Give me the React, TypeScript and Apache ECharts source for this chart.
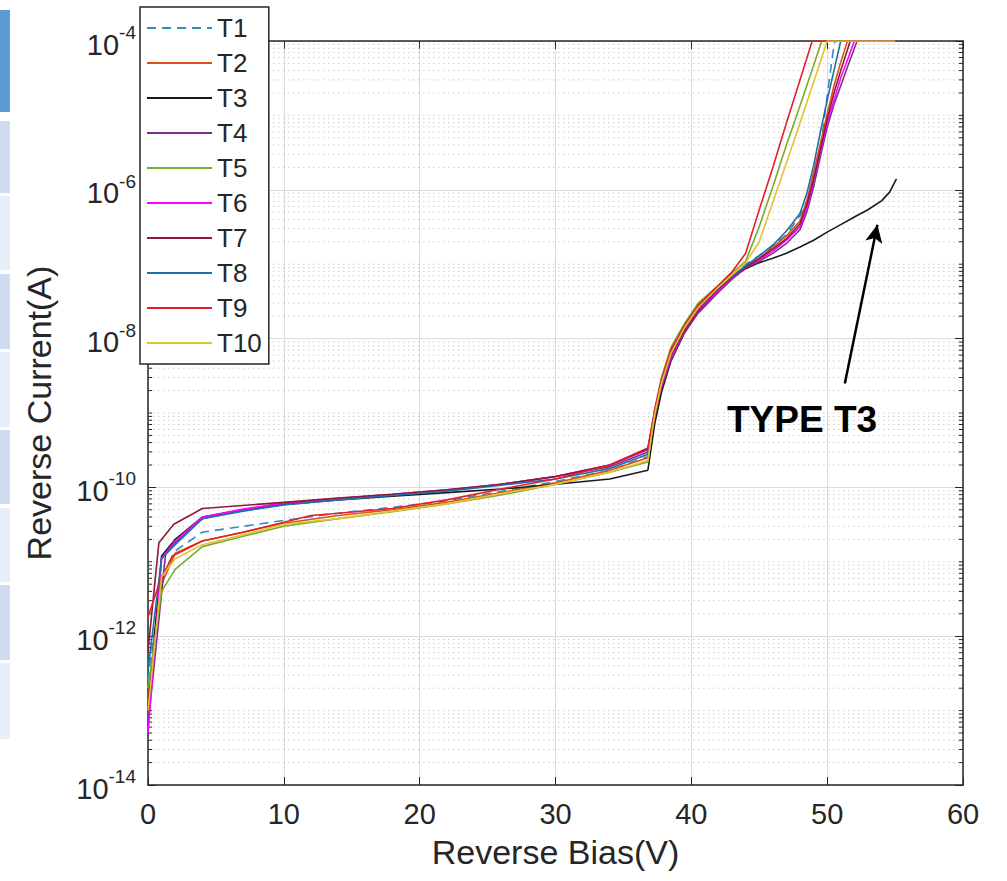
import React, { useEffect, useRef } from 'react';
import * as echarts from 'echarts';

// Reverse bias (V) vs reverse current (A) for test structures T1..T10
const T1 = [[0, 2.5e-13], [1, 6.3e-12], [2, 1.4e-11], [4, 2.5e-11], [7, 3.0e-11], [10, 3.6e-11], [14, 4.5e-11], [18, 5.4e-11], [22, 6.6e-11], [26, 8.9e-11], [30, 1.2e-10], [34, 1.7e-10], [36.8, 2.6e-10], [37.3, 1.0e-9], [37.8, 2.6e-9], [38.5, 6.6e-9], [39.5, 1.4e-8], [40.5, 2.8e-8], [42, 5.0e-8], [43, 7.1e-8], [44, 1.0e-7], [45, 1.3e-7], [46, 1.8e-7], [47, 2.5e-7], [48, 4.5e-7], [48.5, 7.1e-7], [49, 1.1e-6], [49.5, 3.5e-6], [50, 1.8e-5], [50.5, 8.9e-5], [50.6, 1e-4], [55, 1e-4]];
const T2 = [[0, 1.3e-13], [1, 5.0e-12], [2, 1.3e-11], [4, 1.9e-11], [7, 2.5e-11], [10, 3.3e-11], [14, 4.2e-11], [18, 5.0e-11], [22, 6.3e-11], [26, 8.5e-11], [30, 1.15e-10], [34, 1.7e-10], [36.8, 2.5e-10], [37.3, 8.9e-10], [37.8, 2.4e-9], [38.5, 6.0e-9], [39.5, 1.35e-8], [40.5, 2.5e-8], [42, 4.7e-8], [43, 6.8e-8], [44, 9.3e-8], [45, 1.2e-7], [46, 1.7e-7], [47, 2.4e-7], [48, 3.8e-7], [48.5, 7.1e-7], [49, 1.7e-6], [49.5, 4.2e-6], [50, 1.05e-5], [50.5, 2.5e-5], [51, 5.2e-5], [51.5, 1e-4], [55, 1e-4]];
const T3 = [[0, 1.0e-13], [1, 1.2e-11], [2, 2.0e-11], [4, 4.0e-11], [7, 5.0e-11], [10, 5.9e-11], [14, 6.8e-11], [18, 7.6e-11], [22, 8.5e-11], [26, 9.5e-11], [30, 1.1e-10], [34, 1.3e-10], [36.8, 1.7e-10], [37.3, 7.1e-10], [37.8, 1.9e-9], [38.5, 5.0e-9], [39.5, 1.2e-8], [40.5, 2.3e-8], [42, 4.5e-8], [43, 6.6e-8], [44, 8.7e-8], [45, 1.05e-7], [46, 1.2e-7], [47, 1.4e-7], [48, 1.7e-7], [49, 2.1e-7], [50, 2.7e-7], [51, 3.4e-7], [52, 4.3e-7], [53, 5.4e-7], [54, 7.1e-7], [54.6, 9.3e-7], [55.1, 1.4e-6]];
const T4 = [[0, 6.3e-14], [1.3, 1.3e-11], [2, 1.8e-11], [4, 3.8e-11], [7, 5.0e-11], [10, 6.0e-11], [14, 7.1e-11], [18, 7.9e-11], [22, 9.1e-11], [26, 1.1e-10], [30, 1.4e-10], [34, 1.9e-10], [36.8, 3.0e-10], [37.3, 1.0e-9], [37.8, 2.2e-9], [38.5, 5.2e-9], [39.5, 1.2e-8], [40.5, 2.2e-8], [42, 4.2e-8], [43, 6.3e-8], [44, 8.9e-8], [45, 1.1e-7], [46, 1.4e-7], [47, 1.9e-7], [48, 2.9e-7], [48.5, 5.0e-7], [49, 1.1e-6], [49.5, 2.8e-6], [50, 6.9e-6], [50.5, 1.4e-5], [51, 2.5e-5], [51.5, 4.5e-5], [52.2, 1e-4], [55, 1e-4]];
const T5 = [[0, 2.0e-13], [1, 4.0e-12], [2, 7.9e-12], [4, 1.6e-11], [7, 2.2e-11], [10, 3.0e-11], [14, 3.8e-11], [18, 4.7e-11], [22, 6.0e-11], [26, 7.9e-11], [30, 1.1e-10], [34, 1.6e-10], [36.8, 2.2e-10], [37.3, 1.1e-9], [37.8, 3.0e-9], [38.5, 7.6e-9], [39.5, 1.6e-8], [40.5, 3.0e-8], [42, 5.2e-8], [43, 7.6e-8], [44, 1.1e-7], [45, 3.2e-7], [46, 1.1e-6], [47, 4.0e-6], [48, 1.35e-5], [49, 4.7e-5], [49.6, 1e-4], [55, 1e-4]];
const T6 = [[0, 5.0e-14], [1, 1.1e-11], [2, 1.9e-11], [4, 4.0e-11], [7, 5.1e-11], [10, 6.2e-11], [14, 7.1e-11], [18, 8.1e-11], [22, 9.3e-11], [26, 1.1e-10], [30, 1.4e-10], [34, 2.0e-10], [36.8, 3.2e-10], [37.3, 9.5e-10], [37.8, 2.3e-9], [38.5, 5.6e-9], [39.5, 1.3e-8], [40.5, 2.4e-8], [42, 4.5e-8], [43, 6.6e-8], [44, 9.1e-8], [45, 1.15e-7], [46, 1.5e-7], [47, 2.1e-7], [48, 3.2e-7], [48.5, 5.6e-7], [49, 1.3e-6], [49.5, 3.2e-6], [50, 7.9e-6], [50.5, 1.6e-5], [51, 3.2e-5], [51.5, 5.6e-5], [52, 1e-4], [55, 1e-4]];
const T7 = [[0, 6.3e-13], [0.8, 1.8e-11], [1.9, 3.2e-11], [4, 5.2e-11], [10, 6.3e-11], [14, 7.2e-11], [18, 8.1e-11], [22, 9.3e-11], [26, 1.1e-10], [30, 1.4e-10], [34, 2.0e-10], [36.8, 3.3e-10], [37.3, 1.0e-9], [37.8, 2.5e-9], [38.5, 6.0e-9], [39.5, 1.3e-8], [40.5, 2.5e-8], [42, 4.7e-8], [43, 6.8e-8], [44, 9.1e-8], [45, 1.2e-7], [46, 1.6e-7], [47, 2.2e-7], [48, 3.5e-7], [48.5, 6.3e-7], [49, 1.4e-6], [49.5, 3.5e-6], [50, 8.9e-6], [50.5, 2.0e-5], [51, 4.0e-5], [51.7, 1e-4], [55, 1e-4]];
const T8 = [[0, 3.5e-13], [1, 1.1e-11], [2, 1.7e-11], [4, 3.8e-11], [7, 4.8e-11], [10, 5.8e-11], [14, 6.8e-11], [18, 7.8e-11], [22, 8.9e-11], [26, 1.07e-10], [30, 1.3e-10], [34, 1.8e-10], [36.8, 2.8e-10], [37.3, 1.05e-9], [37.8, 2.6e-9], [38.5, 6.6e-9], [39.5, 1.45e-8], [40.5, 2.7e-8], [42, 4.9e-8], [43, 6.9e-8], [44, 9.5e-8], [45, 1.3e-7], [46, 1.8e-7], [47, 2.8e-7], [48, 4.8e-7], [48.5, 8.9e-7], [49, 2.1e-6], [49.5, 6.0e-6], [50, 1.6e-5], [50.5, 4.0e-5], [51, 1e-4], [55, 1e-4]];
const T9 = [[0, 1.8e-12], [0.8, 5.0e-12], [1.8, 1.2e-11], [4, 1.9e-11], [7, 2.5e-11], [10, 3.4e-11], [12, 4.2e-11], [14, 4.5e-11], [18, 5.2e-11], [22, 6.8e-11], [26, 9.5e-11], [30, 1.3e-10], [34, 2.0e-10], [36.8, 3.4e-10], [37.3, 1.1e-9], [37.8, 2.8e-9], [38.5, 7.1e-9], [39.5, 1.5e-8], [40.5, 2.8e-8], [42, 5.2e-8], [43, 7.9e-8], [44, 1.4e-7], [45, 5.4e-7], [46, 2.0e-6], [47, 7.9e-6], [48, 3.0e-5], [48.9, 1e-4], [55, 1e-4]];
const T10 = [[0, 1.0e-13], [1, 6.3e-12], [2, 1.1e-11], [4, 1.7e-11], [7, 2.3e-11], [10, 3.2e-11], [14, 3.8e-11], [18, 4.8e-11], [22, 6.0e-11], [26, 8.3e-11], [30, 1.1e-10], [34, 1.6e-10], [36.8, 2.3e-10], [37.3, 9.5e-10], [37.8, 2.5e-9], [38.5, 6.3e-9], [39.5, 1.4e-8], [40.5, 2.6e-8], [42, 4.9e-8], [43, 7.2e-8], [44, 1.05e-7], [45, 2.0e-7], [46, 6.8e-7], [47, 2.3e-6], [48, 7.9e-6], [49, 2.8e-5], [50, 1e-4], [55, 1e-4]];

const seriesNames = ['T1', 'T2', 'T3', 'T4', 'T5', 'T6', 'T7', 'T8', 'T9', 'T10'];
const seriesData = [T1, T2, T3, T4, T5, T6, T7, T8, T9, T10];
const seriesColors = ['#2E8FC0', '#D95319', '#1A1A1A', '#7E2F8E', '#77AC30', '#FF00FF', '#8B1A35', '#1F6FA8', '#E3202C', '#E3C230'];

// axis settings
const xMin = 0;
const xMax = 60;
const xStep = 10;
const yMin = 1e-14;
const yMax = 1e-4;
const yLogStep = 2;

// annotation arrow (data coordinates)
const arrowFrom = [51.3, 2.5e-9];
const arrowTo = [53.7, 3.4e-7];
const annotationText = 'TYPE T3';

const FONT = '"Liberation Sans", Arial, Helvetica, sans-serif';
const AX = '#262626';

function buildMinorValues() {
  const out: number[][] = [];
  for (let d = -14; d <= -5; d++) {
    for (let k = 1; k <= 9; k++) {
      if (k === 1 && d % 2 === 0) continue;
      out.push([0, k * Math.pow(10, d)]);
    }
  }
  return out;
}

export default function App() {
  const ref = useRef<HTMLDivElement>(null);
  useEffect(() => {
    const chart = echarts.init(ref.current!, null, { renderer: 'svg' });
    const lineSeries: any[] = seriesNames.map((name, i) => ({
      name,
      type: 'line',
      data: seriesData[i],
      symbol: 'none',
      showSymbol: false,
      z: 3,
      lineStyle: {
        color: seriesColors[i],
        width: 1.6,
        type: i === 0 ? [9, 6] : 'solid',
      },
      itemStyle: { color: seriesColors[i] },
      emphasis: { disabled: true },
      markLine:
        name === 'T3'
          ? {
              silent: true,
              symbol: ['none', 'arrow'],
              symbolSize: [13, 18],
              label: { show: false },
              lineStyle: { color: '#000', width: 2.5, type: 'solid' },
              data: [[{ coord: arrowFrom }, { coord: arrowTo }]],
            }
          : undefined,
    }));
    const minorSeries = {
      type: 'custom',
      name: 'minorGrid',
      silent: true,
      z: 1,
      data: buildMinorValues(),
      renderItem: (params: any, api: any) => {
        const v = api.value(1);
        const p0 = api.coord([xMin, v]);
        const p1 = api.coord([xMax, v]);
        return {
          type: 'group',
          children: [
            { type: 'line', shape: { x1: p0[0], y1: p0[1], x2: p1[0], y2: p1[1] }, style: { stroke: '#cccccc', lineWidth: 1, lineDash: [1.5, 3.5] } },
            { type: 'line', shape: { x1: p0[0], y1: p0[1], x2: p0[0] + 4, y2: p0[1] }, style: { stroke: AX, lineWidth: 1 } },
            { type: 'line', shape: { x1: p1[0] - 4, y1: p1[1], x2: p1[0], y2: p1[1] }, style: { stroke: AX, lineWidth: 1 } },
          ],
        };
      },
    };
    const yLabel = (val: number) => {
      const e = Math.round(Math.log10(val));
      return `{b|10}{s|${e}}`;
    };
    const option: any = {
      animation: false,
      backgroundColor: '#ffffff',
      textStyle: { fontFamily: FONT },
      grid: { left: 148, right: 44, top: 41, bottom: 96, containLabel: false },
      legend: {
        data: seriesNames,
        orient: 'vertical',
        left: 140,
        top: 7,
        itemWidth: 65,
        itemHeight: 14,
        itemGap: 9,
        padding: [8, 7, 8, 6],
        backgroundColor: '#ffffff',
        borderColor: AX,
        borderWidth: 1.5,
        borderRadius: 0,
        selectedMode: false,
        z: 10,
        itemStyle: { opacity: 0 },
        textStyle: { fontSize: 26, lineHeight: 26, color: AX, fontFamily: FONT, padding: [0, 0, 0, 0] },
      },
      xAxis: [
        {
          type: 'value',
          min: xMin,
          max: xMax,
          interval: xStep,
          position: 'bottom',
          name: 'Reverse Bias(V)',
          nameLocation: 'middle',
          nameGap: 50,
          nameTextStyle: { fontSize: 34, color: AX, fontFamily: FONT },
          axisLine: { show: true, onZero: false, lineStyle: { color: AX, width: 1.5 } },
          axisTick: { show: true, inside: true, length: 8, lineStyle: { color: AX } },
          axisLabel: { fontSize: 29, color: AX, margin: 14, fontFamily: FONT },
          splitLine: { show: true, lineStyle: { color: '#dcdcdc', width: 1 } },
        },
        {
          type: 'value',
          min: xMin,
          max: xMax,
          interval: xStep,
          position: 'top',
          axisLine: { show: true, onZero: false, lineStyle: { color: AX, width: 1.5 } },
          axisTick: { show: true, inside: true, length: 8, lineStyle: { color: AX } },
          axisLabel: { show: false },
          splitLine: { show: false },
        },
      ],
      yAxis: [
        {
          type: 'log',
          logBase: 10,
          min: yMin,
          max: yMax,
          interval: yLogStep,
          position: 'left',
          name: 'Reverse Current(A)',
          nameLocation: 'middle',
          nameGap: 92,
          nameRotate: 90,
          nameTextStyle: { fontSize: 34, color: AX, fontFamily: FONT },
          axisLine: { show: true, onZero: false, lineStyle: { color: AX, width: 1.5 } },
          axisTick: { show: true, inside: true, length: 8, lineStyle: { color: AX } },
          axisLabel: {
            margin: 12,
            formatter: yLabel,
            rich: {
              b: { fontSize: 29, lineHeight: 36, verticalAlign: 'bottom', color: AX, fontFamily: FONT },
              s: { fontSize: 19, lineHeight: 19, verticalAlign: 'top', color: AX, fontFamily: FONT },
            },
          },
          splitLine: { show: true, lineStyle: { color: '#dcdcdc', width: 1 } },
        },
        {
          type: 'log',
          logBase: 10,
          min: yMin,
          max: yMax,
          interval: yLogStep,
          position: 'right',
          axisLine: { show: true, onZero: false, lineStyle: { color: AX, width: 1.5 } },
          axisTick: { show: true, inside: true, length: 8, lineStyle: { color: AX } },
          axisLabel: { show: false },
          splitLine: { show: false },
        },
      ],
      graphic: [
        { type: 'rect', left: 0, top: 10, shape: { width: 10, height: 102 }, style: { fill: '#5B9BD5' }, silent: true },
        { type: 'rect', left: 0, top: 121, shape: { width: 10, height: 72 }, style: { fill: '#CFDBEE' }, silent: true },
        { type: 'rect', left: 0, top: 196, shape: { width: 10, height: 74 }, style: { fill: '#E8EEF7' }, silent: true },
        { type: 'rect', left: 0, top: 274, shape: { width: 10, height: 75 }, style: { fill: '#CFDBEE' }, silent: true },
        { type: 'rect', left: 0, top: 352, shape: { width: 10, height: 75 }, style: { fill: '#E8EEF7' }, silent: true },
        { type: 'rect', left: 0, top: 430, shape: { width: 10, height: 74 }, style: { fill: '#CFDBEE' }, silent: true },
        { type: 'rect', left: 0, top: 508, shape: { width: 10, height: 74 }, style: { fill: '#E8EEF7' }, silent: true },
        { type: 'rect', left: 0, top: 585, shape: { width: 10, height: 75 }, style: { fill: '#CFDBEE' }, silent: true },
        { type: 'rect', left: 0, top: 663, shape: { width: 10, height: 76 }, style: { fill: '#E8EEF7' }, silent: true },
        {
          type: 'text',
          left: 727,
          top: 401,
          z: 20,
          style: { text: annotationText, fill: '#000', font: `bold 37px ${FONT}` },
          silent: true,
        },
      ],
      series: [minorSeries, ...lineSeries],
    };
    chart.setOption(option);
    return () => chart.dispose();
  }, []);
  return (
    <div
      ref={ref}
      style={{ position: 'fixed', left: 0, top: 0, width: 1007, height: 881, background: '#fff' }}
    />
  );
}
